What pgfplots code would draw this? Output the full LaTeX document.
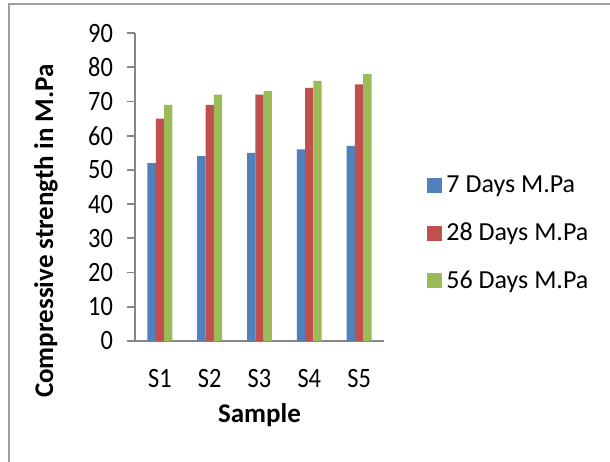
\documentclass[border=0pt]{standalone}
\usepackage{fontspec}
\setmainfont{Carlito}
\newfontfamily\tickfont{Carlito}[FakeStretch=0.87]
\usepackage{pgfplots}
\pgfplotsset{compat=1.18}

\definecolor{sblue}{HTML}{4F81BD}
\definecolor{sred}{HTML}{C0504D}
\definecolor{sgreen}{HTML}{9BBB59}
\definecolor{axgray}{HTML}{868686}
\definecolor{framegray}{HTML}{A0A0A0}

\begin{document}
\begin{tikzpicture}
% page area and chart frame
\path[use as bounding box] (0,0) rectangle (305pt,-230.5pt);
\draw[framegray, line width=0.9pt] (4.5pt,-231pt) -- (4.5pt,-2pt) -- (306pt,-2pt);

\begin{axis}[
  at={(67.5pt,-170.5pt)}, anchor=south west,
  width=124.5pt, height=154pt, scale only axis,
  xmin=0, xmax=5, ymin=0, ymax=90,
  ytick={0,10,...,90},
  xtick={0.5,1.5,2.5,3.5,4.5},
  xticklabels={S1,S2,S3,S4,S5},
  axis x line=bottom, axis y line=left,
  axis line style={-, axgray, line width=0.9pt},
  x axis line style={-},
  y axis line style={-},
  tick style={axgray, line width=0.9pt},
  ytick align=outside, major tick length=4pt,
  xtick style={draw=none},
  /pgf/number format/assume math mode=true,
  ticklabel style={font=\tickfont\fontsize{14}{16}\selectfont},
  yticklabel style={xshift=-3.5pt},
  xticklabel style={yshift=-6.5pt},
  ybar=0pt, bar width=4.15pt,
  xlabel={\textbf{Sample}},
  ylabel={\textbf{Compressive strength in M.Pa}},
  label style={font=\fontsize{13.5}{16}\selectfont},
  xlabel style={at={(axis description cs:0.5,-0.266)}, anchor=base},
  ylabel style={at={(axis description cs:-0.329,0.357)}, anchor=base},
  legend style={
    at={(axis description cs:1.173,0.349)}, anchor=west,
    draw=none, fill=none, inner sep=0pt,
    font=\fontsize{13}{15}\selectfont,
    row sep=9.5pt,
    nodes={inner xsep=2pt},
  },
  legend cell align=left,
  legend image code/.code={\fill[#1, draw=none] (0pt,-3.75pt) rectangle (7.5pt,3.75pt);},
]
\addplot[fill=sblue, draw=none] coordinates {(0.5,52) (1.5,54) (2.5,55) (3.5,56) (4.5,57)};
\addplot[fill=sred, draw=none] coordinates {(0.5,65) (1.5,69) (2.5,72) (3.5,74) (4.5,75)};
\addplot[fill=sgreen, draw=none] coordinates {(0.5,69) (1.5,72) (2.5,73) (3.5,76) (4.5,78)};
\legend{7 Days M.Pa, 28 Days M.Pa, 56 Days M.Pa}
\end{axis}
\end{tikzpicture}
\end{document}
